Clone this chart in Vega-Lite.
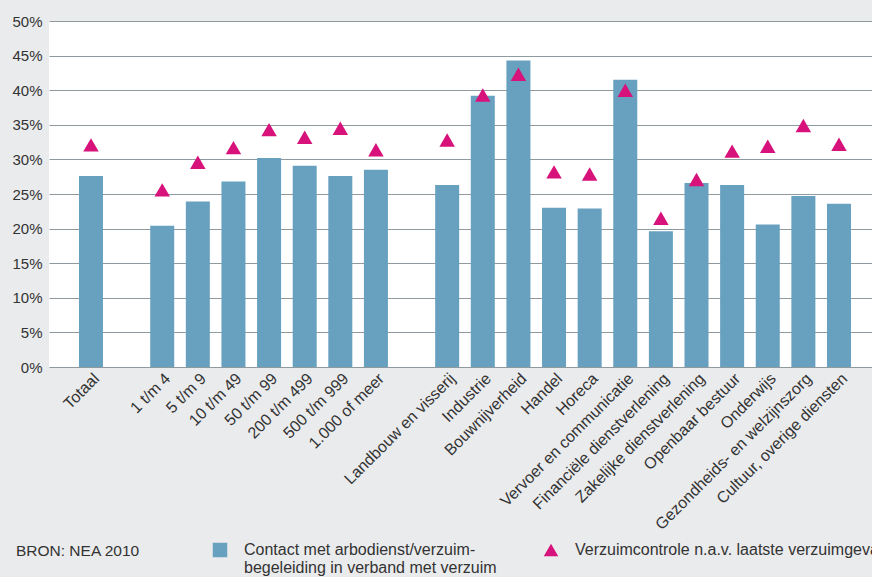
{
  "$schema": "https://vega.github.io/schema/vega-lite/v6.json",
  "width": 823,
  "height": 346,
  "autosize": {"type": "none"},
  "padding": {"left": 49, "top": 21, "right": 0, "bottom": 210},
  "background": "#eaebed",
  "config": {"view": {"fill": "white", "stroke": null}, "font": "Liberation Sans"},
  "title": {"text": "BRON: NEA 2010", "orient": "bottom", "anchor": "start", "dx": 4, "offset": -32, "fontSize": 15.5, "fontWeight": "normal", "color": "#333333", "font": "Liberation Sans"},
  "data": {"values": [
    {"cat": "Totaal", "reeks": "Contact", "waarde": 27.6},
    {"cat": "1 t/m 4", "reeks": "Contact", "waarde": 20.4},
    {"cat": "5 t/m 9", "reeks": "Contact", "waarde": 23.9},
    {"cat": "10 t/m 49", "reeks": "Contact", "waarde": 26.8},
    {"cat": "50 t/m 99", "reeks": "Contact", "waarde": 30.2},
    {"cat": "200 t/m 499", "reeks": "Contact", "waarde": 29.1},
    {"cat": "500 t/m 999", "reeks": "Contact", "waarde": 27.6},
    {"cat": "1.000 of meer", "reeks": "Contact", "waarde": 28.5},
    {"cat": "Landbouw en visserij", "reeks": "Contact", "waarde": 26.3},
    {"cat": "Industrie", "reeks": "Contact", "waarde": 39.2},
    {"cat": "Bouwnijverheid", "reeks": "Contact", "waarde": 44.3},
    {"cat": "Handel", "reeks": "Contact", "waarde": 23.0},
    {"cat": "Horeca", "reeks": "Contact", "waarde": 22.9},
    {"cat": "Vervoer en communicatie", "reeks": "Contact", "waarde": 41.5},
    {"cat": "Financiële dienstverlening", "reeks": "Contact", "waarde": 19.6},
    {"cat": "Zakelijke dienstverlening", "reeks": "Contact", "waarde": 26.6},
    {"cat": "Openbaar bestuur", "reeks": "Contact", "waarde": 26.3},
    {"cat": "Onderwijs", "reeks": "Contact", "waarde": 20.6},
    {"cat": "Gezondheids- en welzijnszorg", "reeks": "Contact", "waarde": 24.7},
    {"cat": "Cultuur, overige diensten", "reeks": "Contact", "waarde": 23.6},
    {"cat": "Totaal", "reeks": "Verzuimcontrole", "waarde": 32.1},
    {"cat": "1 t/m 4", "reeks": "Verzuimcontrole", "waarde": 25.6},
    {"cat": "5 t/m 9", "reeks": "Verzuimcontrole", "waarde": 29.6},
    {"cat": "10 t/m 49", "reeks": "Verzuimcontrole", "waarde": 31.7},
    {"cat": "50 t/m 99", "reeks": "Verzuimcontrole", "waarde": 34.3},
    {"cat": "200 t/m 499", "reeks": "Verzuimcontrole", "waarde": 33.2},
    {"cat": "500 t/m 999", "reeks": "Verzuimcontrole", "waarde": 34.5},
    {"cat": "1.000 of meer", "reeks": "Verzuimcontrole", "waarde": 31.4},
    {"cat": "Landbouw en visserij", "reeks": "Verzuimcontrole", "waarde": 32.8},
    {"cat": "Industrie", "reeks": "Verzuimcontrole", "waarde": 39.3},
    {"cat": "Bouwnijverheid", "reeks": "Verzuimcontrole", "waarde": 42.3},
    {"cat": "Handel", "reeks": "Verzuimcontrole", "waarde": 28.2},
    {"cat": "Horeca", "reeks": "Verzuimcontrole", "waarde": 27.9},
    {"cat": "Vervoer en communicatie", "reeks": "Verzuimcontrole", "waarde": 40.0},
    {"cat": "Financiële dienstverlening", "reeks": "Verzuimcontrole", "waarde": 21.5},
    {"cat": "Zakelijke dienstverlening", "reeks": "Verzuimcontrole", "waarde": 27.1},
    {"cat": "Openbaar bestuur", "reeks": "Verzuimcontrole", "waarde": 31.2},
    {"cat": "Onderwijs", "reeks": "Verzuimcontrole", "waarde": 31.9},
    {"cat": "Gezondheids- en welzijnszorg", "reeks": "Verzuimcontrole", "waarde": 34.9},
    {"cat": "Cultuur, overige diensten", "reeks": "Verzuimcontrole", "waarde": 32.2}
  ]},
  "encoding": {
    "x": {
      "field": "cat", "type": "nominal", "sort": null,
      "scale": {
        "domain": ["Totaal", " ", "1 t/m 4", "5 t/m 9", "10 t/m 49", "50 t/m 99", "200 t/m 499", "500 t/m 999", "1.000 of meer", "  ", "Landbouw en visserij", "Industrie", "Bouwnijverheid", "Handel", "Horeca", "Vervoer en communicatie", "Financiële dienstverlening", "Zakelijke dienstverlening", "Openbaar bestuur", "Onderwijs", "Gezondheids- en welzijnszorg", "Cultuur, overige diensten"],
        "paddingInner": 0.326, "paddingOuter": 0.7155, "align": 0.588
      },
      "axis": {"title": null, "labelAngle": -45, "ticks": false, "domain": false, "labelFontSize": 16, "labelColor": "#333333", "labelPadding": 3, "labelLimit": 400, "grid": false}
    },
    "y": {
      "field": "waarde", "type": "quantitative",
      "scale": {"domain": [0, 50], "nice": false},
      "axis": {"title": null, "values": [0, 5, 10, 15, 20, 25, 30, 35, 40, 45, 50], "labelExpr": "datum.value + '%'", "domain": false, "ticks": false, "gridColor": "#8e9a9d", "gridWidth": 1.2, "gridOpacity": 1, "labelFontSize": 15, "labelColor": "#333333", "labelPadding": 7}
    }
  },
  "layer": [
    {
      "transform": [{"filter": "datum.reeks == 'Contact'"}],
      "mark": {"type": "bar"},
      "encoding": {
        "color": {"field": "reeks", "type": "nominal", "scale": {"domain": ["Contact", "Verzuimcontrole"], "range": ["#68a1c0", "#d7127b"]},
          "legend": {"orient": "none", "legendX": 163, "legendY": 521, "direction": "horizontal", "title": null, "symbolSize": 210, "labelFontSize": 16, "labelColor": "#333333", "labelLimit": 600, "columnPadding": 46, "labelOffset": 16, "padding": 0,
            "labelExpr": "datum.label == 'Contact' ? ['Contact met arbodienst/verzuim-', 'begeleiding in verband met verzuim'] : ['Verzuimcontrole n.a.v. laatste verzuimgeval', ' ']"}}
      }
    },
    {
      "transform": [{"filter": "datum.reeks == 'Verzuimcontrole'"}],
      "mark": {"type": "point", "filled": true, "size": 240, "opacity": 1},
      "encoding": {
        "color": {"field": "reeks", "type": "nominal", "scale": {"domain": ["Contact", "Verzuimcontrole"], "range": ["#68a1c0", "#d7127b"]},
          "legend": {"orient": "none", "legendX": 163, "legendY": 521, "direction": "horizontal", "title": null, "symbolSize": 210, "labelFontSize": 16, "labelColor": "#333333", "labelLimit": 600, "columnPadding": 46, "labelOffset": 16, "padding": 0,
            "labelExpr": "datum.label == 'Contact' ? ['Contact met arbodienst/verzuim-', 'begeleiding in verband met verzuim'] : ['Verzuimcontrole n.a.v. laatste verzuimgeval', ' ']"}},
        "shape": {"field": "reeks", "type": "nominal", "scale": {"domain": ["Contact", "Verzuimcontrole"], "range": ["square", "triangle-up"]},
          "legend": {"orient": "none", "legendX": 163, "legendY": 521, "direction": "horizontal", "title": null, "symbolSize": 210, "labelFontSize": 16, "labelColor": "#333333", "labelLimit": 600, "columnPadding": 46, "labelOffset": 16, "padding": 0,
            "labelExpr": "datum.label == 'Contact' ? ['Contact met arbodienst/verzuim-', 'begeleiding in verband met verzuim'] : ['Verzuimcontrole n.a.v. laatste verzuimgeval', ' ']"}}
      }
    }
  ]
}
